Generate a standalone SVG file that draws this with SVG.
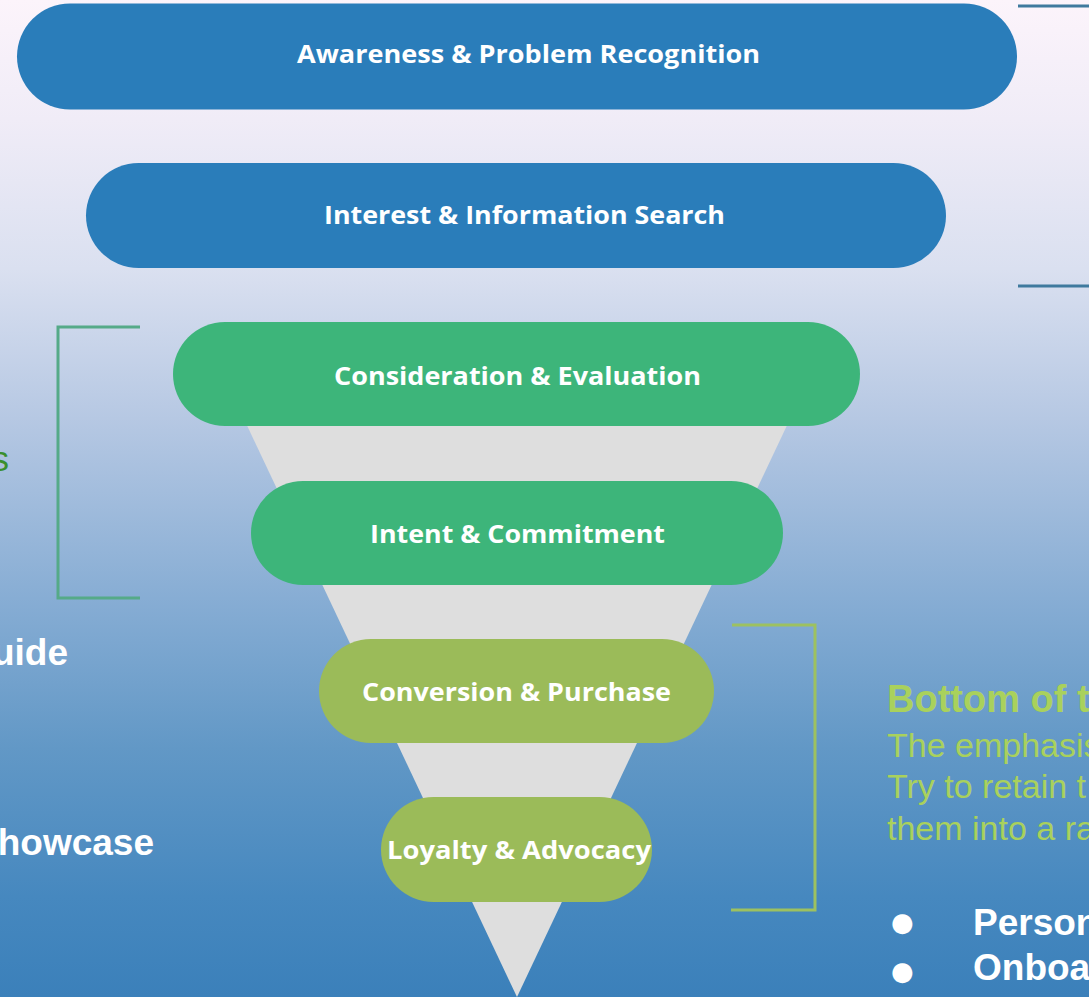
<svg xmlns="http://www.w3.org/2000/svg" width="1089" height="997" viewBox="0 0 1089 997">
<defs>
<linearGradient id="bg" x1="0" y1="0" x2="0" y2="1">
<stop offset="0" stop-color="#fcf4fb"/>
<stop offset="0.12" stop-color="#f0ecf7"/>
<stop offset="0.27" stop-color="#dae0f0"/>
<stop offset="0.42" stop-color="#b6c8e3"/>
<stop offset="0.6" stop-color="#87add4"/>
<stop offset="0.75" stop-color="#6298c6"/>
<stop offset="0.9" stop-color="#4688bf"/>
<stop offset="1" stop-color="#3b80ba"/>
</linearGradient>
<style>
.pt{font-family:"Open Sans","Liberation Sans",sans-serif;font-weight:700;font-size:25.5px;fill:#ffffff}
.blue{fill:#2a7dba}
.green{fill:#3db57a}
.lime{fill:#9bbb59}
.br{fill:none;stroke-width:3}
.side{font-family:"Liberation Sans",Arial,sans-serif}
.bw{font-weight:700;font-size:37px;fill:#ffffff}
.lg{fill:#a9d15c;font-size:34px}
</style>
</defs>
<rect x="0" y="0" width="1089" height="997" fill="url(#bg)"/>
<polygon points="235,400 799,400 517,997" fill="#dedede"/>

<g id="brackets">
<polyline class="br" stroke="#3f7a9e" points="1089,6 1018,6"/>
<polyline class="br" stroke="#3f7a9e" points="1089,286 1018,286"/>
<polyline class="br" stroke="#55aa88" points="140,327 58,327 58,598 140,598"/>
<polyline class="br" stroke="#9dc160" points="732,625 815,625 815,910 731,910"/>
</g>

<g id="awareness">
<rect class="blue" x="17" y="3.5" width="1000" height="106" rx="53"/>
<text class="pt" x="297" y="63" textLength="463" lengthAdjust="spacingAndGlyphs">Awareness &amp; Problem Recognition</text>
</g>
<g id="interest">
<rect class="blue" x="86" y="163" width="860" height="105" rx="52.5"/>
<text class="pt" x="324" y="224" textLength="401" lengthAdjust="spacingAndGlyphs">Interest &amp; Information Search</text>
</g>
<g id="consideration">
<rect class="green" x="173" y="322" width="687" height="104" rx="52"/>
<text class="pt" x="334" y="385" textLength="367" lengthAdjust="spacingAndGlyphs">Consideration &amp; Evaluation</text>
</g>
<g id="intent">
<rect class="green" x="251" y="481" width="532" height="104" rx="52"/>
<text class="pt" x="370" y="543" textLength="295" lengthAdjust="spacingAndGlyphs">Intent &amp; Commitment</text>
</g>
<g id="conversion">
<rect class="lime" x="319" y="639" width="395" height="104" rx="52"/>
<text class="pt" x="362" y="701" textLength="309" lengthAdjust="spacingAndGlyphs">Conversion &amp; Purchase</text>
</g>
<g id="loyalty">
<rect class="lime" x="381" y="797" width="271" height="105" rx="52.5"/>
<text class="pt" x="387" y="859" textLength="264" lengthAdjust="spacingAndGlyphs">Loyalty &amp; Advocacy</text>
</g>

<g id="left-text" class="side">
<text x="9" y="471" text-anchor="end" font-size="35" fill="#3a8f2e">s</text>
<text class="bw" x="68" y="665" text-anchor="end">uide</text>
<text class="bw" x="154" y="855" text-anchor="end">howcase</text>
</g>

<g id="right-text" class="side">
<text x="887" y="712" font-size="38" font-weight="700" fill="#a9d15c">Bottom of t</text>
<text class="lg" x="887" y="757">The emphasis</text>
<text class="lg" x="887" y="798">Try to retain t</text>
<text class="lg" x="887" y="840">them into a ra</text>
<text x="891" y="931" font-family="DejaVu Sans,sans-serif" font-size="26" fill="#ffffff">●</text>
<text class="bw" x="973" y="935">Person</text>
<text x="891" y="980" font-family="DejaVu Sans,sans-serif" font-size="26" fill="#ffffff">●</text>
<text class="bw" x="973" y="980">Onboa</text>
</g>
</svg>
